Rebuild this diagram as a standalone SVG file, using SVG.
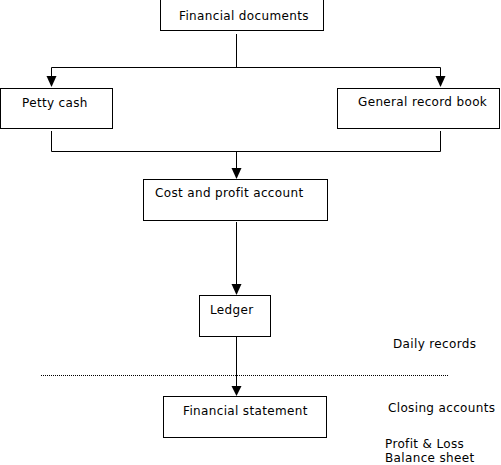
<svg xmlns="http://www.w3.org/2000/svg" width="501" height="465" viewBox="0 0 501 465">
<style>
.box{fill:#fff;stroke:#000;stroke-width:1}
.ln{fill:none;stroke:#000;stroke-width:1}
text{font-family:"DejaVu Sans",Verdana,sans-serif;font-size:12px;letter-spacing:0.35px;fill:#000}
</style>
<rect width="501" height="465" fill="#fff"/>
<g id="connectors">
<path class="ln" d="M236.5,34 V67.5"/>
<path class="ln" d="M51.5,67.5 H440.5"/>
<path class="ln" d="M51.5,67.5 V78"/><path d="M46.5,76 L56.5,76 L51.5,87 Z"/>
<path class="ln" d="M440.5,67.5 V78"/><path d="M435.5,76 L445.5,76 L440.5,87 Z"/>
<path class="ln" d="M51.5,131 V151.5 H440.5 V131"/>
<path class="ln" d="M236.5,151.5 V170"/><path d="M231.5,168 L241.5,168 L236.5,179 Z"/>
<path class="ln" d="M236.5,222 V286"/><path d="M231.5,284 L241.5,284 L236.5,295 Z"/>
<path class="ln" d="M236.5,337 V388"/><path d="M231.5,386 L241.5,386 L236.5,396 Z"/>
<path class="ln" d="M41,375.5 H448" stroke-dasharray="1,1"/>
</g>
<g id="n1"><rect class="box" x="160.5" y="-0.5" width="163" height="31"/><text x="179" y="20">Financial documents</text></g>
<g id="n2"><rect class="box" x="0.5" y="88.5" width="112" height="40"/><text x="22" y="107">Petty cash</text></g>
<g id="n3"><rect class="box" x="337.5" y="88.5" width="162" height="40"/><text x="358" y="106">General record book</text></g>
<g id="n4"><rect class="box" x="143.5" y="179.5" width="184" height="41"/><text x="155" y="197">Cost and profit account</text></g>
<g id="n5"><rect class="box" x="199.5" y="295.5" width="71" height="41"/><text x="210" y="314">Ledger</text></g>
<g id="n6"><rect class="box" x="163.5" y="396.5" width="163" height="41"/><text x="183" y="415">Financial statement</text></g>
<g id="labels">
<text x="393" y="348">Daily records</text>
<text x="388" y="412">Closing accounts</text>
<text x="385" y="448">Profit &amp; Loss</text>
<text x="385" y="462">Balance sheet</text>
</g>
</svg>
